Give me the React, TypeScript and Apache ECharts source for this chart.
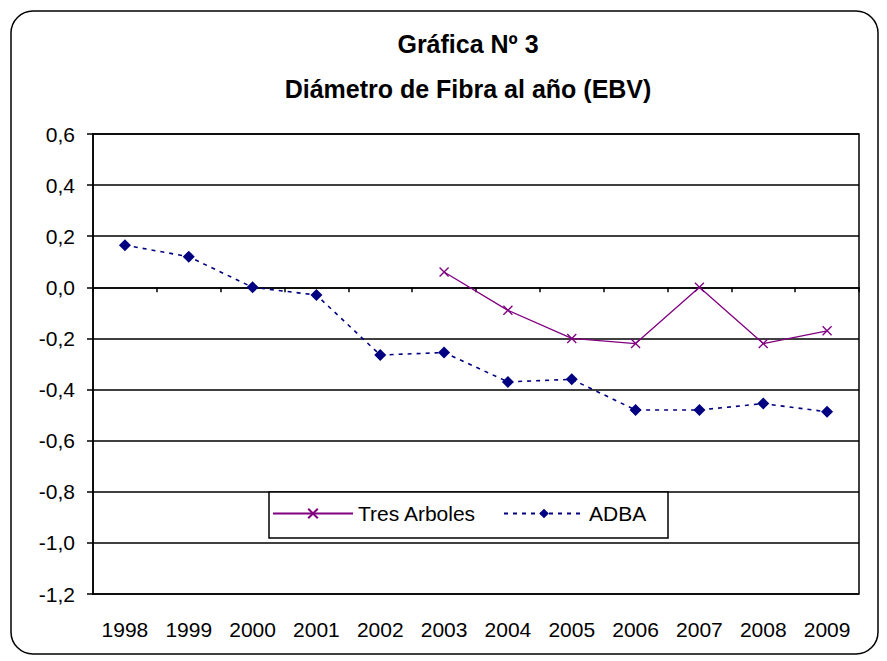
import React, { useEffect, useRef } from "react";
import * as echarts from "echarts";

const years = ["1998", "1999", "2000", "2001", "2002", "2003", "2004", "2005", "2006", "2007", "2008", "2009"];
const tresArboles = [null, null, null, null, null, 0.06, -0.09, -0.2, -0.22, 0.0, -0.22, -0.17];
const adba = [0.165, 0.12, 0.0, -0.03, -0.265, -0.255, -0.37, -0.36, -0.48, -0.48, -0.455, -0.487];
const titleLines = ["Gráfica Nº 3", "Diámetro de Fibra al año (EBV)"];

const FONT = "'Liberation Sans', Arial, sans-serif";
const crossPath = "path://M0,0L10,10M10,0L0,10";

export default function App() {
  const ref = useRef<HTMLDivElement>(null);
  useEffect(() => {
    if (!ref.current) return;
    const chart = echarts.init(ref.current, null, { renderer: "svg" });
    chart.setOption({
      animation: false,
      backgroundColor: "#fff",
      textStyle: { fontFamily: FONT },
      title: [
        {
          text: titleLines[0],
          left: 463,
          top: 26,
          textAlign: "center",
          textStyle: { fontFamily: FONT, fontSize: 25, fontWeight: "bold", color: "#000" },
        },
        {
          text: titleLines[1],
          left: 463,
          top: 71,
          textAlign: "center",
          textStyle: { fontFamily: FONT, fontSize: 25, fontWeight: "bold", color: "#000" },
        },
      ],
      graphic: [
        {
          type: "rect",
          shape: { x: 11, y: 11, width: 867, height: 643, r: 22 },
          style: { fill: "none", stroke: "#000", lineWidth: 1.5 },
          z: 10,
        },
        {
          type: "rect",
          shape: { x: 269, y: 492, width: 399, height: 46 },
          style: { fill: "#fff", stroke: "#000", lineWidth: 1.5 },
          z: 10,
        },
      ],
      legend: [
        {
          data: ["Tres Arboles"],
          left: 272,
          top: 503,
          itemWidth: 80,
          itemHeight: 12,
          padding: 0,
          z: 20,
          textStyle: { fontFamily: FONT, fontSize: 21, color: "#000" },
        },
        {
          data: ["ADBA"],
          left: 503,
          top: 503,
          itemWidth: 80,
          itemHeight: 12,
          padding: 0,
          z: 20,
          textStyle: { fontFamily: FONT, fontSize: 21, color: "#000" },
        },
      ],
      grid: {
        left: 93,
        right: 28,
        top: 134,
        bottom: 67,
        show: true,
        borderColor: "#000",
        borderWidth: 1.5,
      },
      xAxis: [
        {
          type: "category",
          data: years,
          boundaryGap: true,
          position: "bottom",
          axisLine: { show: false, onZero: false },
          axisTick: { show: false },
          axisLabel: { fontFamily: FONT, fontSize: 21, color: "#000", margin: 25 },
        },
        {
          type: "category",
          data: years,
          boundaryGap: true,
          position: "bottom",
          axisLine: { show: true, onZero: true, lineStyle: { color: "#000", width: 1.5 } },
          axisTick: { show: true, length: 5, lineStyle: { color: "#000", width: 1.5 } },
          axisLabel: { show: false },
        },
      ],
      yAxis: {
        type: "value",
        min: -1.2,
        max: 0.6,
        interval: 0.2,
        axisLine: { show: true, lineStyle: { color: "#000", width: 1.5 } },
        axisTick: { show: true, length: 6, lineStyle: { color: "#000", width: 1.5 } },
        splitLine: { show: true, lineStyle: { color: "#000", width: 1.5 } },
        axisLabel: {
          fontFamily: FONT,
          fontSize: 21,
          color: "#000",
          margin: 18,
          formatter: (v: number) => (Math.abs(v) < 1e-9 ? 0 : v).toFixed(1).replace(".", ","),
        },
      },
      series: [
        {
          name: "Tres Arboles",
          type: "line",
          data: tresArboles,
          symbol: crossPath,
          symbolSize: 9,
          lineStyle: { color: "#800080", width: 1.3 },
          itemStyle: { color: "rgba(0,0,0,0)", borderColor: "#800080", borderWidth: 1.3 },
          z: 5,
        },
        {
          name: "ADBA",
          type: "line",
          data: adba,
          symbol: "diamond",
          symbolSize: 12,
          lineStyle: { color: "#000080", width: 1.6, type: [4, 5] },
          itemStyle: { color: "#000080" },
          z: 5,
        },
      ],
    });
    return () => chart.dispose();
  }, []);
  return (
    <div
      ref={ref}
      style={{ position: "fixed", left: 0, top: 0, width: 887, height: 661 }}
    />
  );
}
